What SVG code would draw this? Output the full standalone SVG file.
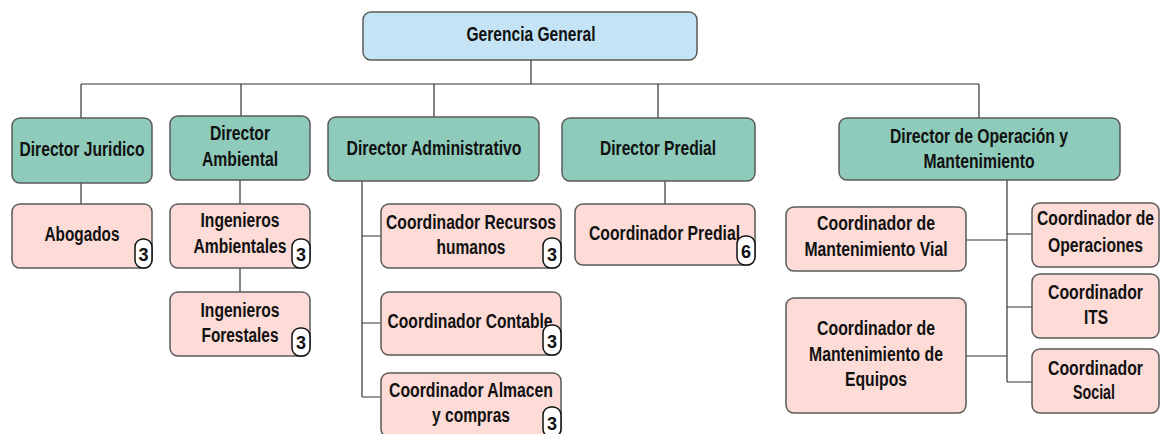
<svg xmlns="http://www.w3.org/2000/svg" width="1160" height="434" viewBox="0 0 1160 434">
<style>
.box{stroke:#5a5a5a;stroke-width:1.5}
.g{fill:#c4e4f5}
.d{fill:#8ecbbb}
.c{fill:#fddcd7}
.t{font-family:"Liberation Sans",Arial,sans-serif;font-weight:bold;font-size:20px;fill:#111;text-anchor:middle}
.badge{fill:#fff;stroke:#111;stroke-width:1.5}
.bn{font-family:"Liberation Sans",Arial,sans-serif;font-weight:bold;font-size:18px;fill:#111;text-anchor:middle}
.ln{fill:none;stroke:#333;stroke-width:1.2}
</style>
<rect width="1160" height="434" fill="#fff"/>
<g id="connectors" class="ln">
<path d="M531 60V84M81 84H979M81 84V118M241 84V116M434 84V117M658 84V118M979 84V118"/>
<path d="M81 183V204"/>
<path d="M240 180V204M240 268V292"/>
<path d="M362 181V397M362 236H381M362 323H381M362 397H381"/>
<path d="M665 181V204"/>
<path d="M1007 180V382M966 240H1007M966 356H1007M1007 234H1032M1007 307H1032M1007 382H1032"/>
</g>
<g id="gerencia"><rect class="box g" x="363" y="12" width="334" height="48" rx="8"/><text class="t" x="531" y="41" textLength="129" lengthAdjust="spacingAndGlyphs">Gerencia General</text></g>
<g id="dir-juridico"><rect class="box d" x="12" y="118" width="140" height="65" rx="8"/><text class="t" x="82" y="156" textLength="125" lengthAdjust="spacingAndGlyphs">Director Juridico</text></g>
<g id="dir-ambiental"><rect class="box d" x="170" y="116" width="140" height="64" rx="8"/><text class="t" x="240" y="140" textLength="60" lengthAdjust="spacingAndGlyphs">Director</text><text class="t" x="240" y="165.5" textLength="76" lengthAdjust="spacingAndGlyphs">Ambiental</text></g>
<g id="dir-admin"><rect class="box d" x="328" y="117" width="211" height="64" rx="8"/><text class="t" x="434" y="155" textLength="175" lengthAdjust="spacingAndGlyphs">Director Administrativo</text></g>
<g id="dir-predial"><rect class="box d" x="562" y="118" width="193" height="63" rx="8"/><text class="t" x="658" y="155" textLength="116" lengthAdjust="spacingAndGlyphs">Director Predial</text></g>
<g id="dir-operacion"><rect class="box d" x="839" y="118" width="281" height="62" rx="8"/><text class="t" x="979" y="143" textLength="178" lengthAdjust="spacingAndGlyphs">Director de Operación y</text><text class="t" x="979" y="168" textLength="111" lengthAdjust="spacingAndGlyphs">Mantenimiento</text></g>
<g id="abogados"><rect class="box c" x="12" y="204" width="140" height="64" rx="8"/><text class="t" x="82" y="241" textLength="75" lengthAdjust="spacingAndGlyphs">Abogados</text><rect class="badge" x="135" y="239" width="17" height="29" rx="8"/><text class="bn" x="143.5" y="261">3</text></g>
<g id="ing-ambientales"><rect class="box c" x="170" y="204" width="140" height="64" rx="8"/><text class="t" x="240" y="227" textLength="79" lengthAdjust="spacingAndGlyphs">Ingenieros</text><text class="t" x="240" y="253" textLength="93" lengthAdjust="spacingAndGlyphs">Ambientales</text><rect class="badge" x="292" y="239" width="18" height="29" rx="8"/><text class="bn" x="301" y="261">3</text></g>
<g id="ing-forestales"><rect class="box c" x="170" y="292" width="140" height="64" rx="8"/><text class="t" x="240" y="316.5" textLength="79" lengthAdjust="spacingAndGlyphs">Ingenieros</text><text class="t" x="240" y="341.5" textLength="77" lengthAdjust="spacingAndGlyphs">Forestales</text><rect class="badge" x="292" y="328" width="18" height="28" rx="8"/><text class="bn" x="301" y="349">3</text></g>
<g id="coord-rrhh"><rect class="box c" x="381" y="204" width="180" height="64" rx="8"/><text class="t" x="471" y="228.5" textLength="170" lengthAdjust="spacingAndGlyphs">Coordinador Recursos</text><text class="t" x="471" y="253.5" textLength="69" lengthAdjust="spacingAndGlyphs">humanos</text><rect class="badge" x="543" y="238" width="18" height="30" rx="8"/><text class="bn" x="552" y="261">3</text></g>
<g id="coord-contable"><rect class="box c" x="381" y="292" width="180" height="63" rx="8"/><text class="t" x="470" y="327.5" textLength="165" lengthAdjust="spacingAndGlyphs">Coordinador Contable</text><rect class="badge" x="543" y="325" width="18" height="30" rx="8"/><text class="bn" x="552" y="348">3</text></g>
<g id="coord-almacen"><rect class="box c" x="381" y="373" width="180" height="64" rx="8"/><text class="t" x="471" y="396.5" textLength="164" lengthAdjust="spacingAndGlyphs">Coordinador Almacen</text><text class="t" x="471" y="421.5" textLength="78" lengthAdjust="spacingAndGlyphs">y compras</text><rect class="badge" x="543" y="407" width="18" height="30" rx="8"/><text class="bn" x="552" y="430">3</text></g>
<g id="coord-predial"><rect class="box c" x="575" y="204" width="180" height="61" rx="8"/><text class="t" x="664.5" y="240" textLength="151" lengthAdjust="spacingAndGlyphs">Coordinador Predial</text><rect class="badge" x="737" y="236" width="18" height="29" rx="8"/><text class="bn" x="746" y="258">6</text></g>
<g id="coord-mant-vial"><rect class="box c" x="786" y="207" width="180" height="64" rx="8"/><text class="t" x="876" y="230" textLength="118" lengthAdjust="spacingAndGlyphs">Coordinador de</text><text class="t" x="876" y="256" textLength="143" lengthAdjust="spacingAndGlyphs">Mantenimiento Vial</text></g>
<g id="coord-mant-equipos"><rect class="box c" x="786" y="298" width="180" height="115" rx="8"/><text class="t" x="876" y="335" textLength="118" lengthAdjust="spacingAndGlyphs">Coordinador de</text><text class="t" x="876" y="360.5" textLength="134" lengthAdjust="spacingAndGlyphs">Mantenimiento de</text><text class="t" x="876" y="385.5" textLength="62" lengthAdjust="spacingAndGlyphs">Equipos</text></g>
<g id="coord-operaciones"><rect class="box c" x="1032" y="203" width="127" height="64" rx="8"/><text class="t" x="1095.5" y="225" textLength="117" lengthAdjust="spacingAndGlyphs">Coordinador de</text><text class="t" x="1095.5" y="251.5" textLength="95" lengthAdjust="spacingAndGlyphs">Operaciones</text></g>
<g id="coord-its"><rect class="box c" x="1032" y="274" width="127" height="64" rx="8"/><text class="t" x="1095.5" y="299" textLength="95" lengthAdjust="spacingAndGlyphs">Coordinador</text><text class="t" x="1096" y="323.5" textLength="24" lengthAdjust="spacingAndGlyphs">ITS</text></g>
<g id="coord-social"><rect class="box c" x="1032" y="349" width="127" height="64" rx="8"/><text class="t" x="1095.5" y="374.5" textLength="95" lengthAdjust="spacingAndGlyphs">Coordinador</text><text class="t" x="1094" y="398.5" textLength="42" lengthAdjust="spacingAndGlyphs">Social</text></g>
</svg>
